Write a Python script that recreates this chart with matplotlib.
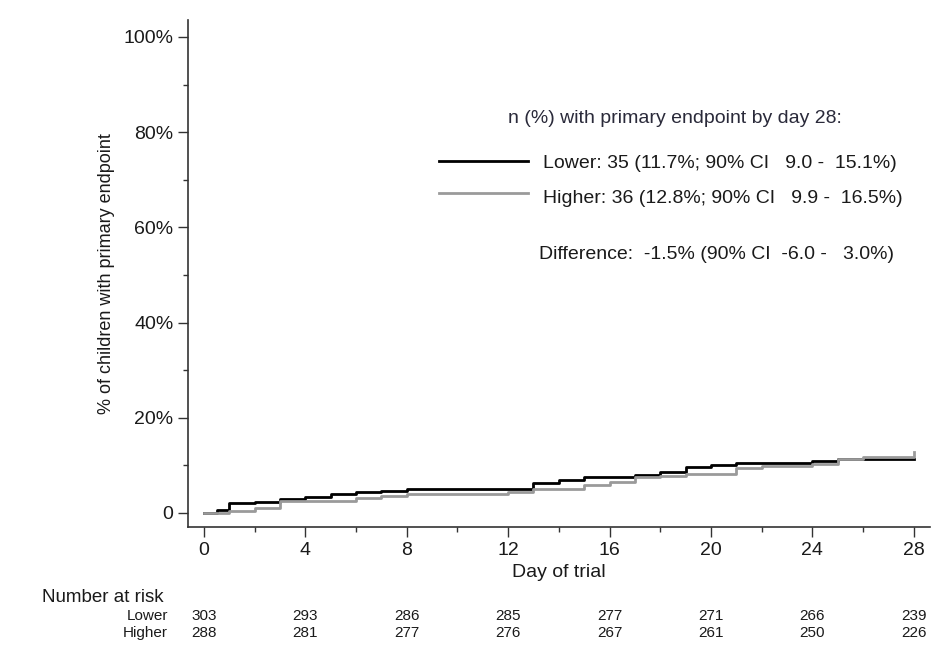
import matplotlib
matplotlib.use("Agg")
import matplotlib.pyplot as plt
from matplotlib.transforms import blended_transform_factory

plt.rcParams['font.family'] = ['Liberation Sans', 'DejaVu Sans']

# cumulative % with primary endpoint (step changes)
lower_days = [0, 0.5, 1, 2, 3, 4, 5, 6, 7, 8, 13, 14, 15, 17, 18, 19, 20, 21, 24, 25, 28]
lower_pct = [0, 0.6, 2.0, 2.4, 3.0, 3.3, 4.0, 4.4, 4.7, 5.0, 6.3, 6.9, 7.6, 8.0, 8.7,
             9.6, 10.1, 10.6, 10.9, 11.3, 11.3]
higher_days = [0, 1, 2, 3, 6, 7, 8, 12, 13, 15, 16, 17, 18, 19, 21, 22, 24, 25, 26, 28]
higher_pct = [0, 0.5, 1.05, 2.6, 3.2, 3.5, 3.9, 4.3, 5.0, 5.9, 6.6, 7.5, 7.8, 8.2,
              9.5, 9.9, 10.3, 11.3, 11.8, 12.75]

# number at risk
risk_days = [0, 4, 8, 12, 16, 20, 24, 28]
risk_lower = [303, 293, 286, 285, 277, 271, 266, 239]
risk_higher = [288, 281, 277, 276, 267, 261, 250, 226]

yticks = [0, 20, 40, 60, 80, 100]
ytick_labels = ['0', '20%', '40%', '60%', '80%', '100%']

legend_title = 'n (%) with primary endpoint by day 28:'
lower_label = 'Lower: 35 (11.7%; 90% CI   9.0 -  15.1%)'
higher_label = 'Higher: 36 (12.8%; 90% CI   9.9 -  16.5%)'
diff_label = 'Difference:  -1.5% (90% CI  -6.0 -   3.0%)'

txt = '#1a1a1a'
grey = '#9a9a9a'

fig = plt.figure(figsize=(9.44, 6.62), dpi=100)
ax = fig.add_axes([0.199, 0.204, 0.786, 0.766])

ax.step(lower_days, lower_pct, where='post', color='black', lw=2)
ax.step(higher_days, higher_pct, where='post', color=grey, lw=2)

ax.set_xlim(-0.63, 28.63)
ax.set_ylim(-2.94, 103.6)
ax.set_xticks(range(0, 29, 4))
ax.set_xticks(range(2, 29, 4), minor=True)
ax.set_yticks(yticks)
ax.set_yticklabels(ytick_labels)
ax.set_yticks(range(10, 100, 20), minor=True)
ax.tick_params(which='major', length=7, width=1, color='#333333', labelsize=14, labelcolor=txt)
ax.tick_params(which='minor', length=3.5, width=1, color='#333333')
for s in ['top', 'right']:
    ax.spines[s].set_visible(False)
for s in ['left', 'bottom']:
    ax.spines[s].set_color('#333333')
    ax.spines[s].set_linewidth(1.2)

ax.set_xlabel('Day of trial', fontsize=14, color=txt, labelpad=4)
ax.set_ylabel('% of children with primary endpoint', fontsize=13, color=txt, labelpad=6)

# legend-style annotation
ax.text(0.656, 0.805, legend_title, transform=ax.transAxes, ha='center', va='center',
        fontsize=14, color='#2a2a3a')
ax.plot([0.338, 0.458], [0.722, 0.722], transform=ax.transAxes, color='black', lw=2)
ax.plot([0.338, 0.458], [0.659, 0.659], transform=ax.transAxes, color=grey, lw=2)
ax.text(0.478, 0.716, lower_label, transform=ax.transAxes, ha='left', va='center',
        fontsize=14, color=txt)
ax.text(0.478, 0.648, higher_label, transform=ax.transAxes, ha='left', va='center',
        fontsize=14, color=txt)
ax.text(0.473, 0.538, diff_label, transform=ax.transAxes, ha='left', va='center',
        fontsize=14, color=txt)

# number at risk table
tr = blended_transform_factory(ax.transData, fig.transFigure)
fig.text(0.0445, 0.098, 'Number at risk', ha='left', va='center', fontsize=13.5, color=txt)
fig.text(0.178, 0.0695, 'Lower', ha='right', va='center', fontsize=11, color=txt)
fig.text(0.178, 0.0438, 'Higher', ha='right', va='center', fontsize=11, color=txt)
for d, lo, hi in zip(risk_days, risk_lower, risk_higher):
    ax.text(d, 0.0695, str(lo), transform=tr, ha='center', va='center', fontsize=11, color=txt)
    ax.text(d, 0.0438, str(hi), transform=tr, ha='center', va='center', fontsize=11, color=txt)

fig.savefig('out.png', dpi=100)
